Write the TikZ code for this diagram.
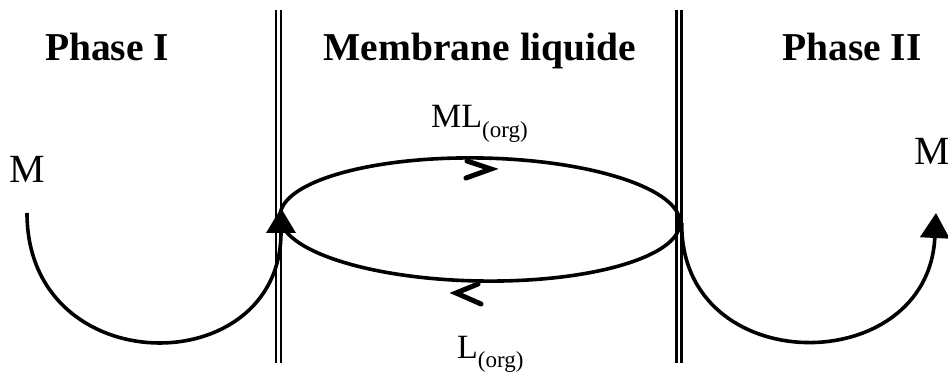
\documentclass[tikz,border=0pt]{standalone}
\usepackage{fontspec}
\setmainfont{Liberation Serif}
\usetikzlibrary{arrows.meta,shapes.geometric}
\begin{document}
\begin{tikzpicture}[x=1pt,y=-1pt,
  title/.style={font=\fontsize{39.5}{40}\selectfont\bfseries, anchor=base, inner sep=0pt},
  lbl/.style={font=\fontsize{40}{40}\selectfont, anchor=base west, inner sep=0pt},
  species/.style={font=\fontsize{34}{34}\selectfont, anchor=base west, inner sep=0pt},
  wall/.style={double, double distance=2.5pt, line width=2.7pt},
  flow/.style={line width=3.6pt},
  tip/.style={-{Triangle[width=29pt,length=25pt]}},
  chev/.style={line width=5pt, line join=miter, line cap=round}
]
\useasboundingbox (0,0) rectangle (948,374);
% membrane walls
\draw[wall] (278.5,10) -- (278.5,363);
\draw[wall] (679,10) -- (679,363);
% titles
\node[title] (p1) at (107,61) {Phase I};
\node[title] (mem) at (480,61) {Membrane liquide};
\node[title] (p2) at (852,61) {Phase II};
% metal labels
\node[lbl] (m1) at (9,183) {M};
\node[lbl] (m2) at (914,165) {M};
% carrier loop
\node[draw, ellipse, line width=3.6pt, minimum width=400pt, minimum height=123pt, inner sep=0pt, rotate=-1] (loop) at (480,219.5) {};
\node[species] (ml) at (431,128) {ML\raisebox{-10pt}{\fontsize{23}{23}\selectfont (org)}};
\node[species] (l) at (457,358) {L\raisebox{-9pt}{\fontsize{23}{23}\selectfont (org)}};
% direction marks
\draw[chev] (467,161) -- (491,169) -- (466,178);
\draw[chev] (478,284) -- (456,293) -- (481,304);
% transport arcs
\coordinate (startL) at (27,213);
\coordinate (tipL) at (281,208);
\coordinate (tipR) at (936,213);
\draw[flow,tip] (startL) .. controls (27,383) and (281,383) .. (tipL);
\draw[flow,tip] (loop.east) .. controls (680,380) and (928,380) .. (tipR);
\end{tikzpicture}
\end{document}
